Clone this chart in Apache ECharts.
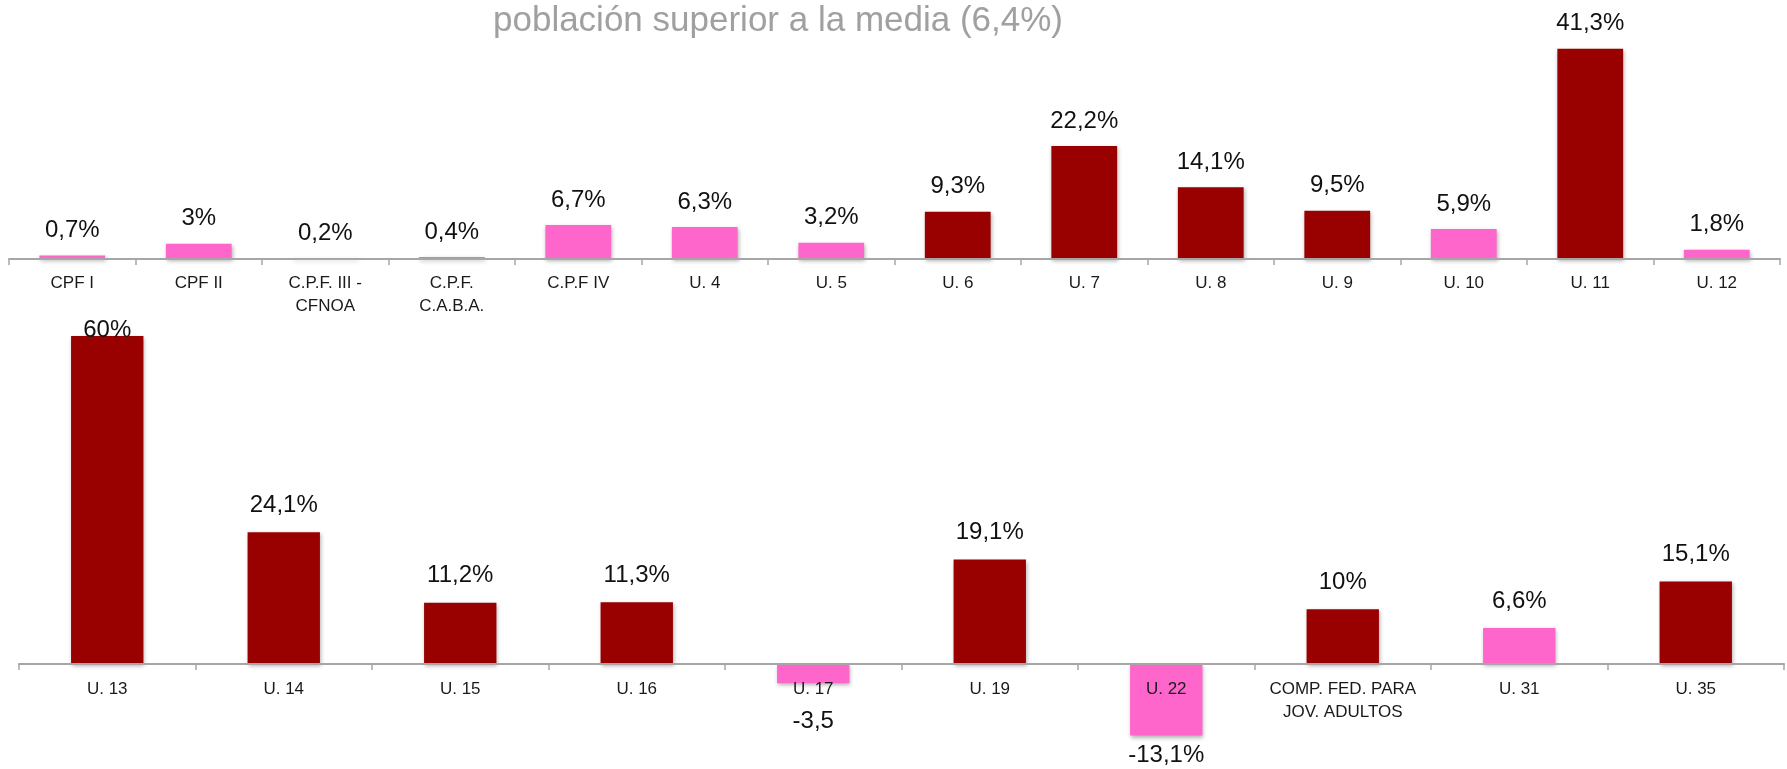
<!DOCTYPE html>
<html>
<head>
<meta charset="utf-8">
<script src="https://cdn.jsdelivr.net/npm/echarts@6/dist/echarts.min.js"></script>
<style>html,body{margin:0;padding:0;background:#fff}#c{width:1787px;height:769px}</style>
</head>
<body>
<div id="c"></div>
<script>
const titleText = 'población superior a la media (6,4%)';

const topCategories = ['CPF I','CPF II','C.P.F. III -\nCFNOA','C.P.F.\nC.A.B.A.','C.P.F IV','U. 4','U. 5','U. 6','U. 7','U. 8','U. 9','U. 10','U. 11','U. 12'];
const topValues = [0.7, 3, 0.2, 0.4, 6.7, 6.3, 3.2, 9.3, 22.2, 14.1, 9.5, 5.9, 41.3, 1.8];
const topLabels = ['0,7%','3%','0,2%','0,4%','6,7%','6,3%','3,2%','9,3%','22,2%','14,1%','9,5%','5,9%','41,3%','1,8%'];
const topHighlight = [0,0,0,0,0,0,0,1,1,1,1,0,1,0];

const bottomCategories = ['U. 13','U. 14','U. 15','U. 16','U. 17','U. 19','U. 22','COMP. FED. PARA\nJOV. ADULTOS','U. 31','U. 35'];
const bottomValues = [60, 24.1, 11.2, 11.3, -3.5, 19.1, -13.1, 10, 6.6, 15.1];
const bottomLabels = ['60%','24,1%','11,2%','11,3%','-3,5','19,1%','-13,1%','10%','6,6%','15,1%'];
const bottomHighlight = [1,1,1,1,0,1,0,1,0,1];

const RED = '#990000', PINK = '#FF66CC';
const FONT = 'Liberation Sans';

function buildData(values, labels, flags, specialDist) {
  return values.map((v, i) => {
    const item = {
      value: v,
      itemStyle: { color: flags[i] ? RED : PINK },
      label: { formatter: labels[i], position: v < 0 ? 'bottom' : 'top' }
    };
    if (specialDist && specialDist[i] !== undefined) item.label.distance = specialDist[i];
    return item;
  });
}

const axisCommon = {
  type: 'category',
  boundaryGap: true,
  z: 5,
  axisLine: { onZero: true, lineStyle: { color: '#a6a6a6', width: 2 } },
  axisTick: { show: true, length: 6, lineStyle: { color: '#a6a6a6', width: 1.5 } },
  axisLabel: { color: '#1a1a1a', fontFamily: FONT, fontSize: 17, lineHeight: 23, interval: 0 }
};

const chart = echarts.init(document.getElementById('c'), null, { renderer: 'canvas' });
chart.setOption({
  animation: false,
  backgroundColor: '#fff',
  graphic: [{
    type: 'text', x: 778, y: 21,
    style: { text: titleText, fill: '#a0a0a0', font: '35px "Liberation Sans"', textAlign: 'center', textVerticalAlign: 'middle' }
  }],
  grid: [
    { left: 9, right: 7, top: 30, bottom: 510, containLabel: false, outerBoundsMode: 'none' },
    { left: 19, right: 3, top: 336, bottom: 23, containLabel: false, outerBoundsMode: 'none' }
  ],
  xAxis: [
    Object.assign({}, axisCommon, { gridIndex: 0, data: topCategories,
      axisLabel: Object.assign({}, axisCommon.axisLabel, { margin: 13 }) }),
    Object.assign({}, axisCommon, { gridIndex: 1, data: bottomCategories,
      axisLabel: Object.assign({}, axisCommon.axisLabel, { margin: -68 }) })
  ],
  yAxis: [
    { type: 'value', gridIndex: 0, min: 0, max: 45, show: false, splitLine: { show: false } },
    { type: 'value', gridIndex: 1, min: -15, max: 60, show: false, splitLine: { show: false } }
  ],
  series: [
    {
      type: 'bar', xAxisIndex: 0, yAxisIndex: 0, barWidth: '52%', z: 2,
      data: buildData(topValues, topLabels, topHighlight),
      itemStyle: { shadowBlur: 4, shadowColor: 'rgba(0,0,0,0.3)', shadowOffsetX: 1, shadowOffsetY: 2 },
      label: { show: true, distance: 13, color: '#111', fontFamily: FONT, fontSize: 24 }
    },
    {
      type: 'bar', xAxisIndex: 1, yAxisIndex: 1, barWidth: '41%', z: 2,
      data: buildData(bottomValues, bottomLabels, bottomHighlight, { 0: -6, 4: 26, 6: 8 }),
      itemStyle: { shadowBlur: 4, shadowColor: 'rgba(0,0,0,0.3)', shadowOffsetX: 1, shadowOffsetY: 2 },
      label: { show: true, distance: 15, color: '#111', fontFamily: FONT, fontSize: 24 }
    }
  ]
});
</script>
</body>
</html>
